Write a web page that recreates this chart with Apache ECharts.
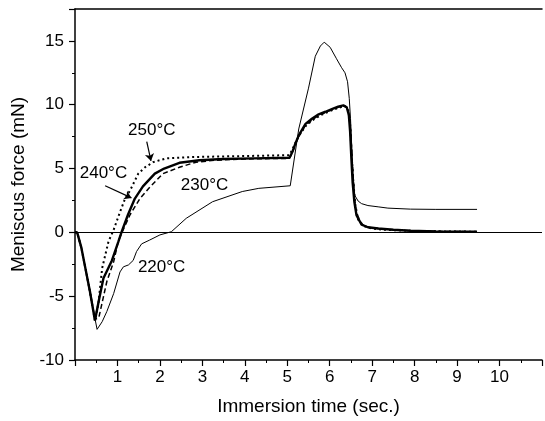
<!DOCTYPE html>
<html>
<head>
<meta charset="utf-8">
<script src="https://cdn.jsdelivr.net/npm/echarts@6/dist/echarts.min.js"></script>
<style>
  html, body { margin: 0; padding: 0; background: #fff; }
  #chart { width: 545px; height: 421px; }
</style>
</head>
<body>
<div id="chart"></div>
<script>
// immersion time (sec.) and meniscus force (mN)
var t220 = [0, 0.05, 0.15, 0.25, 0.35, 0.45, 0.52, 0.64, 0.75, 0.91, 1.06, 1.14, 1.26, 1.37, 1.45, 1.57, 1.76, 2.0, 2.27, 2.62, 3.24, 3.94, 4.33, 5.07, 5.27, 5.5, 5.66, 5.78, 5.87, 6.01, 6.16, 6.28, 6.36, 6.42, 6.46, 6.49, 6.52, 6.55, 6.59, 6.67, 6.75, 6.9, 7.14, 7.37, 7.9, 8.5, 9.47]
var f220 = [0, 0, -1.2, -2.9, -4.6, -6.4, -7.6, -7.0, -6.2, -4.8, -3.1, -2.7, -2.55, -2.2, -1.5, -0.9, -0.6, -0.2, 0.05, 1.1, 2.4, 3.2, 3.45, 3.65, 8.1, 11.3, 13.8, 14.6, 14.9, 14.5, 13.6, 12.9, 12.5, 11.8, 10.5, 8.9, 6.6, 4.5, 2.9, 2.45, 2.25, 2.1, 2.0, 1.9, 1.82, 1.8, 1.8]

var t240 = [0, 0.05, 0.15, 0.25, 0.35, 0.47, 0.57, 0.67, 0.87, 1.02, 1.1, 1.25, 1.41, 1.6, 1.88, 2.1, 2.46, 2.93, 3.5, 4.2, 5.05, 5.12, 5.19, 5.27, 5.43, 5.58, 5.74, 5.9, 6.05, 6.2, 6.32, 6.4, 6.45, 6.48, 6.51, 6.54, 6.58, 6.63, 6.75, 6.9, 7.14, 7.5, 7.9, 8.5, 9.47]
var f240 = [0, 0, -1.2, -2.9, -4.6, -6.9, -5.2, -3.6, -2.2, -0.75, 0.05, 1.4, 2.65, 3.6, 4.6, 5.0, 5.45, 5.65, 5.75, 5.8, 5.85, 6.3, 6.95, 7.6, 8.5, 8.9, 9.25, 9.45, 9.65, 9.85, 9.95, 9.8, 9.2, 7.9, 5.8, 3.9, 2.4, 1.35, 0.6, 0.4, 0.3, 0.2, 0.13, 0.08, 0.05]

var t250 = [0, 0.05, 0.15, 0.25, 0.35, 0.47, 0.55, 0.64, 0.79, 0.91, 1.05, 1.18, 1.3, 1.49, 1.65, 1.84, 2.15, 2.77, 3.5, 4.3, 5.05, 5.12, 5.19, 5.3, 5.45, 5.6, 5.8, 6.0, 6.2, 6.35, 6.43, 6.48, 6.51, 6.55, 6.6, 6.67, 6.8, 7.0, 7.3, 7.9, 8.5, 9.47]
var f250 = [0, 0, -1.2, -2.9, -4.6, -6.9, -5.6, -2.8, -0.7, 0.2, 1.5, 2.65, 3.3, 4.6, 5.1, 5.5, 5.8, 5.9, 5.95, 6.0, 6.05, 6.5, 7.0, 7.7, 8.4, 8.8, 9.2, 9.5, 9.75, 9.9, 9.7, 8.5, 6.5, 4.2, 2.2, 1.0, 0.5, 0.3, 0.2, 0.12, 0.08, 0.05]

var t230 = [0, 0.05, 0.15, 0.25, 0.35, 0.47, 0.56, 0.75, 0.91, 1.02, 1.12, 1.3, 1.53, 1.75, 2.07, 2.46, 2.85, 3.3, 4.0, 5.05, 5.12, 5.19, 5.27, 5.43, 5.58, 5.74, 5.9, 6.05, 6.2, 6.35, 6.42, 6.47, 6.5, 6.54, 6.58, 6.63, 6.75, 6.9, 7.14, 7.5, 7.9, 8.5, 9.47]
var f230 = [0, 0, -1.2, -2.9, -4.6, -6.8, -6.7, -3.85, -2.3, -0.7, 0.1, 1.4, 2.65, 3.5, 4.6, 5.1, 5.5, 5.65, 5.75, 5.8, 6.2, 6.9, 7.5, 8.4, 8.8, 9.15, 9.4, 9.6, 9.8, 9.9, 9.75, 9.0, 7.5, 5.0, 2.8, 1.5, 0.65, 0.4, 0.3, 0.2, 0.13, 0.08, 0.05]

var xTicks = [1, 2, 3, 4, 5, 6, 7, 8, 9, 10]

function pairs (t, f) {
  var out = []
  for (var i = 0; i < t.length; i++) {
    out.push([t[i], f[i]])
  }
  return out
}

var font = 'Liberation Sans, Arial, sans-serif'
var black = '#000'

function tag (name, x, y) {
  return { name: name, coord: [x, y] }
}

var tagLabel = { show: true, formatter: '{b}', fontFamily: font, fontSize: 17, color: black }

var option = {
  animation: false,
  grid: { left: 75, right: 0, top: 9, bottom: 60 },
  xAxis: [
    {
      type: 'value',
      min: 0,
      max: 11,
      interval: 1,
      name: 'Immersion time (sec.)',
      nameLocation: 'middle',
      nameGap: 37,
      nameTextStyle: { fontFamily: font, fontSize: 19, color: black },
      axisLine: { onZero: false, lineStyle: { color: black, width: 1.5 } },
      axisTick: { length: 6, lineStyle: { color: black, width: 1.2 } },
      minorTick: { show: true, splitNumber: 2, length: 3, lineStyle: { color: black, width: 1 } },
      axisLabel: {
        fontFamily: font,
        fontSize: 17,
        color: black,
        margin: 9,
        formatter: function (v) {
          return xTicks.indexOf(v) >= 0 ? String(v) : ''
        }
      },
      splitLine: { show: false }
    },
    {
      type: 'value',
      position: 'top',
      min: 0,
      max: 11,
      axisLine: { onZero: false, lineStyle: { color: black, width: 1.5 } },
      axisTick: { show: false },
      axisLabel: { show: false },
      splitLine: { show: false }
    }
  ],
  yAxis: {
    type: 'value',
    min: -10,
    max: 17.5,
    interval: 5,
    name: 'Meniscus force (mN)',
    nameLocation: 'middle',
    nameGap: 47,
    nameTextStyle: { fontFamily: font, fontSize: 19, color: black },
    axisLine: { show: true, onZero: false, lineStyle: { color: black, width: 1.5 } },
    axisTick: { length: 6, lineStyle: { color: black, width: 1.2 } },
    minorTick: { show: true, splitNumber: 2, length: 3, lineStyle: { color: black, width: 1 } },
    axisLabel: {
      fontFamily: font,
      fontSize: 17,
      color: black,
      margin: 11,
      formatter: function (v) {
        return v > 15 ? '' : String(v)
      }
    },
    splitLine: { show: false }
  },
  series: [
    {
      name: '220',
      type: 'line',
      data: pairs(t220, f220),
      symbol: 'none',
      lineStyle: { color: black, width: 1 },
      markLine: {
        silent: true,
        symbol: 'none',
        label: { show: false },
        lineStyle: { color: black, width: 1, type: 'solid' },
        data: [{ yAxis: 0 }]
      },
      markPoint: {
        symbol: 'circle',
        symbolSize: 0,
        label: tagLabel,
        data: [tag('220°C', 2.04, -2.7), tag('230°C', 3.05, 3.7)]
      }
    },
    {
      name: '230',
      type: 'line',
      data: pairs(t230, f230),
      symbol: 'none',
      lineStyle: { color: black, width: 1.5, type: [5, 3] }
    },
    {
      name: '240',
      type: 'line',
      data: pairs(t240, f240),
      symbol: 'none',
      lineStyle: { color: black, width: 2.4 },
      markLine: {
        silent: true,
        symbol: ['none', 'arrow'],
        symbolSize: 7,
        label: { show: false },
        lineStyle: { color: black, width: 1.2, type: 'solid' },
        data: [
          [{ coord: [0.71, 3.65] }, { coord: [1.33, 2.7] }],
          [{ coord: [1.69, 7.1] }, { coord: [1.79, 5.6] }]
        ]
      },
      markPoint: {
        symbol: 'circle',
        symbolSize: 0,
        label: tagLabel,
        data: [tag('240°C', 0.67, 4.6), tag('250°C', 1.81, 8.0)]
      }
    },
    {
      name: '250',
      type: 'line',
      data: pairs(t250, f250),
      symbol: 'none',
      lineStyle: { color: black, width: 2, type: [2, 3] }
    }
  ]
}

var myChart = echarts.init(document.getElementById('chart'))
myChart.setOption(option)
</script>
</body>
</html>
